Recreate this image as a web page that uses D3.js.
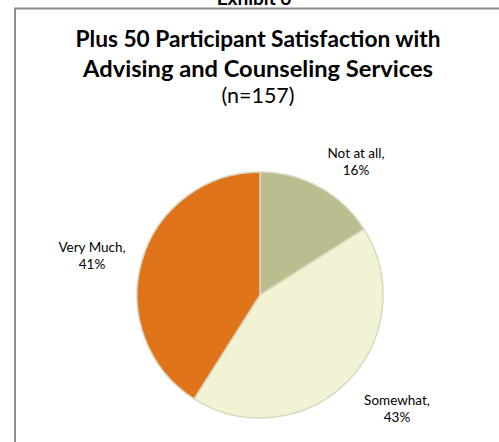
<!DOCTYPE html>
<html><head><meta charset="utf-8">
<script src="https://cdn.jsdelivr.net/npm/d3@7"></script>
<style>html,body{margin:0;padding:0;background:#fff;}svg{display:block;}</style>
</head><body>
<script>
const categories = ["Not at all", "Somewhat", "Very Much"];
const values = [16, 43, 41];
const colors = ["#BBBD8F", "#F2F2D5", "#E0741B"];
const titleLines = ["Plus 50 Participant Satisfaction with", "Advising and Counseling Services"];
const subtitle = "(n=157)";
const exhibit = "Exhibit 6";

const W = 499, H = 442;
const svg = d3.select("body").append("svg").attr("width", W).attr("height", H);
const FONT = "Lato, 'Open Sans', sans-serif";

// Exhibit header (cut off at top)
svg.append("text").attr("x", 254).attr("y", 5).attr("text-anchor", "middle")
  .attr("font-family", FONT).attr("font-weight", "bold").attr("font-size", 19)
  .attr("fill", "#000").text(exhibit);

// chart border
svg.append("path").attr("d", `M15,${H+5} V8.5 H${W+5}`)
  .attr("fill", "none").attr("stroke", "#8c8c8c").attr("stroke-width", 2);

function fitText(sel, targetW) {
  const n = sel.node();
  const fs = +sel.attr("font-size");
  const w = n.getComputedTextLength();
  sel.attr("font-size", (fs * targetW / w).toFixed(2));
}

const t1 = svg.append("text").attr("x", 258).attr("y", 47).attr("text-anchor", "middle")
  .attr("font-family", FONT).attr("font-weight", "bold").attr("font-size", 21).attr("fill", "#000")
  .text(titleLines[0]);
fitText(t1, 365);
const t2 = svg.append("text").attr("x", 258).attr("y", 77).attr("text-anchor", "middle")
  .attr("font-family", FONT).attr("font-weight", "bold").attr("font-size", 21).attr("fill", "#000")
  .text(titleLines[1]);
fitText(t2, 350);
const t3 = svg.append("text").attr("x", 258).attr("y", 103).attr("text-anchor", "middle")
  .attr("font-family", FONT).attr("font-size", 20).attr("fill", "#000")
  .text(subtitle);
fitText(t3, 73);

// pie
const cx = 260, cy = 295, R = 123;
const pie = d3.pie().sort(null).value(d => d.v);
const data = categories.map((c, i) => ({ c, v: values[i], col: colors[i] }));
const arcs = pie(data);
const arc = d3.arc().innerRadius(0).outerRadius(R);
const g = svg.append("g").attr("transform", `translate(${cx},${cy})`);
g.selectAll("path").data(arcs).enter().append("path")
  .attr("d", arc).attr("fill", d => d.data.col)
  .attr("stroke", "#DAD7C0").attr("stroke-width", 1.5).attr("stroke-linejoin", "round");

// labels
const labelPos = [
  { x: 356, y: 158 },
  { x: 397, y: 405 },
  { x: 92, y: 252 }
];
arcs.forEach((a, i) => {
  const t = svg.append("text").attr("text-anchor", "middle")
    .attr("font-family", FONT).attr("font-size", 13.5).attr("fill", "#000");
  t.append("tspan").attr("x", labelPos[i].x).attr("y", labelPos[i].y).text(a.data.c + ",");
  t.append("tspan").attr("x", labelPos[i].x).attr("dy", 17).text(Math.round(a.data.v) + "%");
});
</script>
</body></html>
